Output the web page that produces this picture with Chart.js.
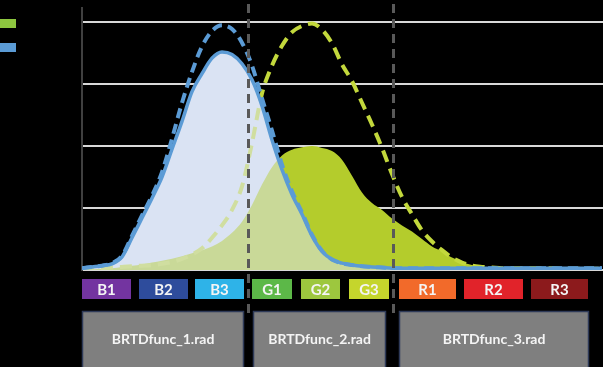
<!DOCTYPE html>
<html>
<head>
<meta charset="utf-8">
<script src="https://cdn.jsdelivr.net/npm/chart.js@4"></script>
<style>
  html, body { margin: 0; padding: 0; background: #000; }
  #chart { display: block; background: #000; }
</style>
</head>
<body>
<canvas id="chart" width="603" height="367"></canvas>
<script>
// =============================================
// Data
// =============================================
const xs = [0,1,2,3,4,5,6,7,8,9,10,11,12,13,14,15,16,17,18,19,20,21,22,23,24,25,
            26,27,28,29,30,31,32,33,34,35,36,37,38,39,40,41,42,43,44,45,46,47,48,49,50,51,52];

const blueSolid = [0.03,0.05,0.07,0.1,0.21,0.52,0.84,1.16,1.5,1.95,2.4,2.88,3.17,3.42,3.52,3.48,3.33,3.07,2.65,2.1,
                   1.62,1.22,0.9,0.55,0.3,0.17,0.11,0.08,0.06,0.05,0.04,0.03,0.03,0.03,0.03,0.03,0.03,0.03,0.03,0.03,
                   0.03,0.03,0.03,0.03,0.03,0.03,0.03,0.03,0.03,0.03,0.03,0.03,0.03];

const blueDashed = [0.03,0.05,0.07,0.11,0.23,0.55,0.88,1.2,1.58,2.12,2.7,3.2,3.61,3.86,3.95,3.89,3.67,3.3,2.77,2.25,
                    1.7,1.27,0.93,0.57,0.31,0.17,0.11,0.08,0.06,0.05,0.04,0.03,0.03,0.03,0.03,0.03,0.03,0.03,0.03,0.03,
                    0.03,0.03,0.03,0.03,0.03,0.03,0.03,0.03,0.03,0.03,0.03,0.03,0.03];

const greenFill = [0,0.01,0.02,0.03,0.05,0.07,0.09,0.12,0.15,0.18,0.22,0.27,0.32,0.38,0.47,0.6,0.78,1.05,1.38,1.66,
                   1.85,1.94,1.98,2.0,1.97,1.92,1.78,1.52,1.25,1.08,0.97,0.83,0.72,0.62,0.5,0.38,0.3,0.2,0.13,0.08,
                   0.04,0.02,0.01,0,0,0,0,0,0,0,0,0,0];

const greenDashed = [0.01,0.02,0.03,0.04,0.05,0.06,0.07,0.08,0.1,0.13,0.18,0.25,0.35,0.52,0.72,0.97,1.35,2.05,2.85,3.3,
                     3.62,3.84,3.94,3.98,3.88,3.66,3.32,3.05,2.7,2.35,1.97,1.55,1.18,0.9,0.64,0.46,0.32,0.2,0.12,0.07,
                     0.05,0.04,0.03,0.03,0.03,0.03,0.03,0.03,0.02,0.02,0.02,0.02,0.02];

const yTicks = [0, 1, 2, 3, 4];

const bandLabels = ['B1','B2','B3','G1','G2','G3','R1','R2','R3'];
const bandStart  = [0, 5.7, 11.3, 17.0, 21.9, 26.7, 31.7, 38.2, 44.9];
const bandEnd    = [4.9, 10.6, 16.2, 21.0, 25.8, 30.7, 37.4, 44.1, 50.6];
const bandColors = ['#7334a0','#2e4c9c','#2eb3e8','#5cb848','#9dc73e','#c5d52c','#f26a2a','#e1232a','#8c1a1c'];

const funcLabels = ['BRTDfunc_1.rad','BRTDfunc_2.rad','BRTDfunc_3.rad'];
const funcStart  = [0, 17.1, 31.7];
const funcEnd    = [16.2, 30.4, 50.7];

const dividers = [16.6, 31.1];

// =============================================
// Helpers
// =============================================
function pts(values) {
  return xs.map((x, i) => ({ x, y: values[i] }));
}

// =============================================
// Overlay plugin: dividers, band boxes, legend swatches
// =============================================
const overlay = {
  id: 'overlay',
  afterDatasetsDraw(chart) {
    const { ctx, scales: { x } } = chart;
    ctx.save();
    ctx.strokeStyle = '#595959';
    ctx.lineWidth = 3;
    ctx.setLineDash([9, 6]);
    dividers.forEach(d => {
      const px = Math.round(x.getPixelForValue(d)) + 0.5;
      ctx.beginPath();
      ctx.moveTo(px, 4);
      ctx.lineTo(px, 318);
      ctx.stroke();
    });
    ctx.restore();
  },
  afterDraw(chart) {
    const { ctx, scales: { x } } = chart;
    ctx.save();
    ctx.textAlign = 'center';
    ctx.textBaseline = 'middle';

    // colour bands
    ctx.font = 'bold 15px Lato, "Open Sans", sans-serif';
    bandLabels.forEach((lab, i) => {
      const x0 = x.getPixelForValue(bandStart[i]);
      const x1 = x.getPixelForValue(bandEnd[i]);
      ctx.fillStyle = bandColors[i];
      ctx.fillRect(x0, 279, x1 - x0, 20);
      ctx.fillStyle = '#f4f4f4';
      ctx.fillText(lab, (x0 + x1) / 2, 290);
    });

    // function boxes
    ctx.font = 'bold 14px Lato, "Open Sans", sans-serif';
    funcLabels.forEach((lab, i) => {
      const x0 = x.getPixelForValue(funcStart[i]);
      const x1 = x.getPixelForValue(funcEnd[i]);
      ctx.fillStyle = '#7f7f7f';
      ctx.fillRect(x0, 311, x1 - x0, 60);
      ctx.strokeStyle = '#2e3a58';
      ctx.lineWidth = 1.5;
      ctx.strokeRect(x0 + 0.5, 311.5, x1 - x0 - 1, 60);
      ctx.fillStyle = '#f4f4f4';
      ctx.fillText(lab, (x0 + x1) / 2, 339);
    });

    // legend swatches
    ctx.fillStyle = '#8dc63f';
    ctx.fillRect(0, 19, 16, 9);
    ctx.fillStyle = '#5b9bd5';
    ctx.fillRect(0, 43, 16, 9);
    ctx.restore();
  }
};

// =============================================
// Chart
// =============================================
const common = { pointRadius: 0, cubicInterpolationMode: 'monotone' };

new Chart(document.getElementById('chart'), {
  type: 'line',
  data: {
    datasets: [
      { ...common, label: 'blue-under', data: pts(blueSolid), order: 6,
        borderWidth: 0, fill: 'origin', backgroundColor: '#dae3f3' },
      { ...common, label: 'green-fill', data: pts(greenFill), order: 5,
        borderWidth: 0, fill: 'origin', backgroundColor: '#b4cc2c' },
      { ...common, label: 'green-dashed', data: pts(greenDashed), order: 4,
        borderWidth: 4, borderColor: '#c3d83c', borderDash: [12, 7], fill: false },
      { ...common, label: 'blue-over', data: pts(blueSolid), order: 3,
        borderWidth: 0, fill: 'origin', backgroundColor: 'rgba(218,227,243,0.55)' },
      { ...common, label: 'blue-dashed', data: pts(blueDashed), order: 2,
        borderWidth: 4, borderColor: '#5b9bd5', borderDash: [10, 6], fill: false },
      { ...common, label: 'blue-solid', data: pts(blueSolid), order: 1,
        borderWidth: 3.5, borderColor: '#5b9bd5', fill: false }
    ]
  },
  options: {
    responsive: false,
    animation: false,
    layout: { padding: { left: 82, top: 8, right: 0, bottom: 97 } },
    scales: {
      x: { type: 'linear', min: 0, max: 52.1, display: false },
      y: {
        min: 0,
        max: 4.23,
        afterBuildTicks: (s) => { s.ticks = yTicks.map(v => ({ value: v })); },
        ticks: { display: false },
        grid: { color: '#d9d9d9', lineWidth: 2, drawTicks: false },
        border: { display: true, color: '#404040', width: 2 }
      }
    },
    plugins: { legend: { display: false }, tooltip: { enabled: false } }
  },
  plugins: [overlay]
});
</script>
</body>
</html>
